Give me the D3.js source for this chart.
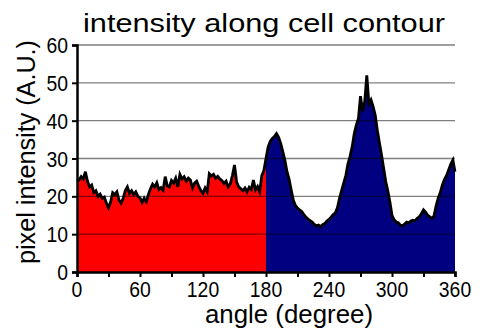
<!DOCTYPE html>
<html><head><meta charset="utf-8">
<script src="https://cdn.jsdelivr.net/npm/d3@7"></script>
<style>body{margin:0;background:#fff}svg{display:block}text{font-family:"Liberation Sans",Arial,sans-serif;fill:#000}</style>
</head><body><svg id="c" width="487" height="334"></svg>
<script>
const title = "intensity along cell contour";
const xTitle = "angle (degree)";
const yTitle = "pixel intensity (A.U.)";
const xTickLabels = [0, 60, 120, 180, 240, 300, 360];
const xMinorTicks = [30, 90, 150, 210, 270, 330];
const yTickLabels = [0, 10, 20, 30, 40, 50, 60];
const splitAngle = 180;
const angleStep = 2;
const intensity = [24,24.3,25.2,24.6,26.5,24,22.5,23,21,21.5,20,20.6,19.5,19.8,18.2,17,18.5,21,20.5,21.2,19,18.2,19.5,21.5,22.5,20.8,21.5,20.5,21.2,20,19.6,18.4,19.5,18.6,20.5,22,23.2,22.5,23.6,21.8,22.3,21.6,25.2,22.8,22.5,24.2,23.5,24.8,22.5,25.8,24.6,25.2,24,24.8,24.3,22.2,23.5,24,22.6,21.5,20.8,22.2,21.2,26,25.4,25.8,24.8,25.3,24.6,24.2,23.4,24,22.5,23.3,25.5,28.3,23.8,22.5,22,21.5,22.2,21.2,22.4,21.8,24.3,21.7,22.6,21.2,25.5,26.8,30,33,34.5,35.3,35.8,36.6,35.6,34,31.8,29.5,26.5,24.5,21.7,19,17.6,16.9,16.4,16,15.2,14.5,14,13.6,13.2,12.6,12.2,12.4,12,12.5,12.8,13.5,13.9,14.5,15.2,15.6,17,19.5,21.5,23.5,25.5,28.5,30.5,33,36.5,38.8,40.5,46.5,42.5,45,52,44.5,45.5,43.7,41.5,37.5,34.2,31,27.5,24,21.5,18.5,15,13.8,13.2,13,12.4,12.2,12.7,13.2,13,13.5,13.7,13.5,14.2,14.6,15.4,16.4,15.8,15,14.6,14.2,14.8,17.5,19.5,21,23,24.5,25.5,27,28.5,29.6,26.5];
const data = intensity.map((v,i)=>({a:i*angleStep, v}));

const svg = d3.select("#c");
const x = d3.scaleLinear().domain([0,360]).range([77,455]);
const y = d3.scaleLinear().domain([0,60]).range([272,45]);

const area = d3.area().x(d=>x(d.a)).y0(y(0)).y1(d=>y(d.v));
const left = data.filter(d=>d.a<=splitAngle);
const right = data.filter(d=>d.a>=splitAngle);
svg.append("path").attr("d", area(left)).attr("fill","#ff0000");
svg.append("path").attr("d", area(right)).attr("fill","#000080");

// gridlines
svg.append("g").selectAll("line").data(yTickLabels.filter(v=>v>0)).join("line")
  .attr("x1",x(0)).attr("x2",x(360)).attr("y1",d=>y(d)).attr("y2",d=>y(d))
  .attr("stroke","rgba(0,0,0,0.5)").attr("stroke-width",1.3);

svg.append("path").attr("d", d3.line().x(d=>x(d.a)).y(d=>y(d.v))(data))
  .attr("fill","none").attr("stroke","#000").attr("stroke-width",2.8).attr("stroke-linejoin","miter");

// axes
const gx = svg.append("g").attr("transform",`translate(0,${y(0)})`)
  .call(d3.axisBottom(x).tickValues(xTickLabels.concat(xMinorTicks)).tickSize(5).tickFormat(""));
gx.select(".domain").attr("stroke-width",2.5);
gx.selectAll(".tick line").attr("stroke-width",2);
const gy = svg.append("g").attr("transform",`translate(${x(0)},0)`)
  .call(d3.axisLeft(y).tickValues(yTickLabels).tickSize(5).tickFormat(""));
gy.select(".domain").attr("stroke-width",2.5);
gy.selectAll(".tick line").attr("stroke-width",2);

// tick labels
svg.append("g").selectAll("text").data(xTickLabels).join("text")
  .attr("transform",d=>`translate(${x(d)},297) scale(0.88,1)`)
  .attr("text-anchor","middle").attr("font-size",22).text(d=>d);
svg.append("g").selectAll("text").data(yTickLabels).join("text")
  .attr("transform",d=>`translate(68,${y(d)+8}) scale(0.88,1)`)
  .attr("text-anchor","end").attr("font-size",22).text(d=>d);

svg.append("text").attr("x",264).attr("y",32).attr("text-anchor","middle")
  .attr("font-size",26).attr("textLength",362).attr("lengthAdjust","spacingAndGlyphs").text(title);
svg.append("text").attr("x",289).attr("y",323).attr("text-anchor","middle")
  .attr("font-size",25).attr("textLength",168).attr("lengthAdjust","spacingAndGlyphs").text(xTitle);
svg.append("text").attr("transform","translate(35,152) rotate(-90)").attr("text-anchor","middle")
  .attr("font-size",25).attr("textLength",224).attr("lengthAdjust","spacingAndGlyphs").text(yTitle);
</script></body></html>
